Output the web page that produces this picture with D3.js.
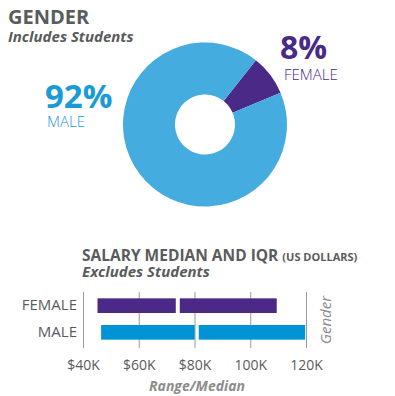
<!DOCTYPE html>
<html>
<head>
<meta charset="utf-8">
<script src="https://cdn.jsdelivr.net/npm/d3@7"></script>
<style>
  body { margin: 0; background: #fff; }
  text { font-family: "Open Sans", sans-serif; }
</style>
</head>
<body>
<svg width="395" height="396"></svg>
<script>
// gender split (percent)
var genders = ['FEMALE', 'MALE'];
var shares = [8, 92];
var pieColors = ['#4B2A87', '#45ACDF'];

// salary range / median (US dollars, thousands)
var lows = [45.2, 46.5];
var medians = [74, 80.8];
var highs = [109.5, 119.7];
var ticks = [40, 60, 80, 100, 120];
var barColors = ['#4B2A87', '#0094D6'];

var svg = d3.select('svg');
var grey = '#5A5B5D';

// titles
svg.append('text').attr('x', 8).attr('y', 24)
    .attr('font-size', 20).attr('font-weight', 'bold').attr('fill', grey)
    .text('GENDER');
svg.append('text').attr('x', 8).attr('y', 42)
    .attr('font-size', 15).attr('font-weight', 'bold').attr('font-style', 'italic').attr('fill', grey)
    .text('Includes Students');

// donut
var pie = d3.pie().sort(null).value(function(d) { return d; })
    .startAngle(0.67).endAngle(0.67 + 2 * Math.PI);
var arc = d3.arc().innerRadius(30).outerRadius(82);
svg.append('g')
    .attr('transform', 'translate(205,124.5)')
    .selectAll('path')
    .data(pie(shares))
    .enter().append('path')
    .attr('d', arc)
    .attr('fill', function(d, i) { return pieColors[i]; });

// donut labels
svg.append('text').attr('x', 45).attr('y', 108)
    .attr('font-size', 33).attr('font-weight', 'bold').attr('fill', '#1A9AD6')
    .text(shares[1] + '%');
svg.append('text').attr('x', 47).attr('y', 127)
    .attr('font-size', 15).attr('font-weight', 300).attr('fill', '#1A9AD6')
    .text('MALE');
svg.append('text').attr('x', 280).attr('y', 59)
    .attr('font-size', 32).attr('font-weight', 'bold').attr('fill', '#4B2A87')
    .text(shares[0] + '%');
svg.append('text').attr('x', 284).attr('y', 80)
    .attr('font-size', 15).attr('font-weight', 300).attr('fill', '#4B2A87')
    .text('FEMALE');

// salary titles
var t = svg.append('text').attr('x', 82).attr('y', 261)
    .attr('font-weight', 'bold').attr('fill', grey);
t.append('tspan').attr('font-size', 15.5).text('SALARY MEDIAN AND IQR ');
t.append('tspan').attr('font-size', 11).text('(US DOLLARS)');
svg.append('text').attr('x', 82).attr('y', 277)
    .attr('font-size', 15).attr('font-weight', 'bold').attr('font-style', 'italic').attr('fill', grey)
    .text('Excludes Students');

// salary chart
var x = d3.scaleLinear().domain([40, 120]).range([83, 306]);
var y = d3.scaleBand().domain(genders).range([289, 349]).paddingInner(0.45).paddingOuter(0.35);

var xAxis = d3.axisBottom(x).tickValues(ticks).tickSize(0).tickPadding(8)
    .tickFormat(function(d) { return d < 100 ? '$' + d + 'K' : d + 'K'; });
var gx = svg.append('g').attr('transform', 'translate(0,352)').call(xAxis);
gx.select('.domain').remove();
gx.selectAll('text').attr('font-size', 14).attr('fill', grey)
    .attr('font-family', '"Open Sans", sans-serif');

svg.append('g').selectAll('line')
    .data(ticks)
    .enter().append('line')
    .attr('x1', function(d) { return x(d) + 0.5; })
    .attr('x2', function(d) { return x(d) + 0.5; })
    .attr('y1', 292).attr('y2', 348)
    .attr('stroke', '#9A9A9A').attr('stroke-width', 1);

var yAxis = d3.axisLeft(y).tickSize(0).tickPadding(0);
var gy = svg.append('g').attr('transform', 'translate(77,0)').call(yAxis);
gy.select('.domain').remove();
gy.selectAll('text').attr('font-size', 15).attr('fill', grey)
    .attr('font-family', '"Open Sans", sans-serif');

var bars = svg.append('g').selectAll('g')
    .data(genders)
    .enter().append('g');
bars.append('rect')
    .attr('x', function(d, i) { return x(lows[i]); })
    .attr('y', function(d) { return y(d); })
    .attr('width', function(d, i) { return x(medians[i]) - x(lows[i]) - 2; })
    .attr('height', y.bandwidth())
    .attr('fill', function(d, i) { return barColors[i]; });
bars.append('rect')
    .attr('x', function(d, i) { return x(medians[i]) + 2; })
    .attr('y', function(d) { return y(d); })
    .attr('width', function(d, i) { return x(highs[i]) - x(medians[i]) - 2; })
    .attr('height', y.bandwidth())
    .attr('fill', function(d, i) { return barColors[i]; });

// axis titles
svg.append('text').attr('x', 197).attr('y', 391).attr('text-anchor', 'middle')
    .attr('font-size', 14).attr('font-weight', 'bold').attr('font-style', 'italic').attr('fill', '#8C8C8C')
    .text('Range/Median');
svg.append('text').attr('transform', 'translate(331,320) rotate(-90)').attr('text-anchor', 'middle')
    .attr('font-size', 15).attr('font-style', 'italic').attr('fill', '#8C8C8C')
    .text('Gender');
</script>
</body>
</html>
